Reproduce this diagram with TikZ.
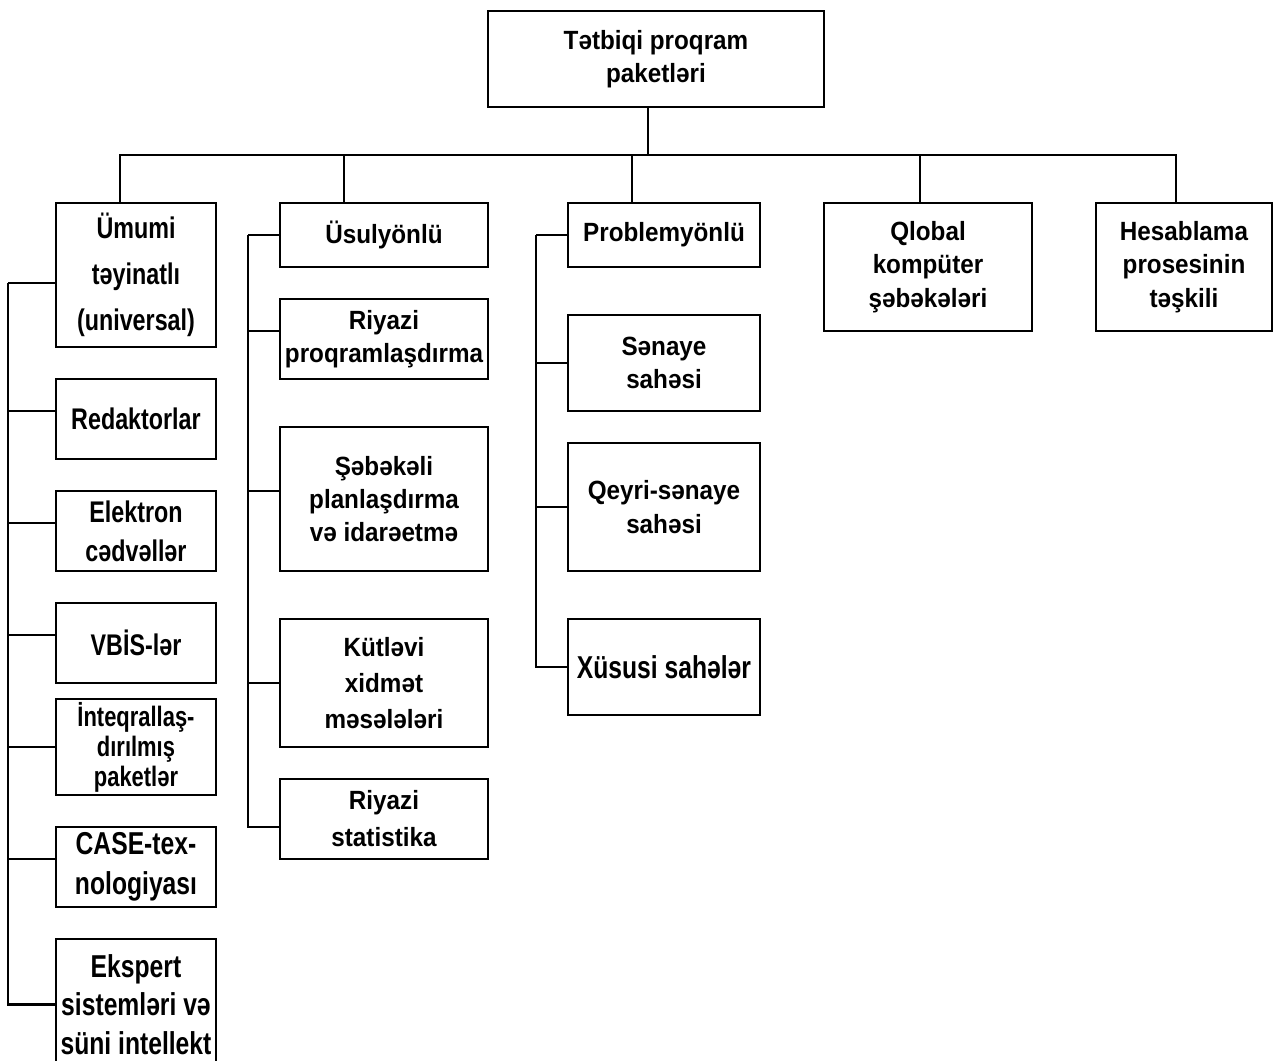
\documentclass[tikz,border=0pt]{standalone}
\usepackage{fontspec}
\setmainfont{Liberation Sans}
\newfontfamily\narrowbf[FakeStretch=0.78]{Liberation Sans Bold}
\newfontfamily\plainbf[FakeStretch=0.92]{Liberation Sans Bold}
\usetikzlibrary{calc,positioning}
\tikzset{
  qutu/.style={
    draw,
    line width=1.3pt,
    inner sep=0pt,
    outer sep=0pt,
    align=center
  },
  sol/.style={qutu, minimum width=3.2cm},
  orta/.style={qutu, minimum width=4.16cm},
  sag/.style={qutu, minimum width=3.84cm},
  adi/.style={font=\plainbf\fontsize{15}{19}\selectfont},
  iri/.style={font=\narrowbf\fontsize{17}{22}\selectfont},
  xett/.style={line width=1.3pt}
}

\begin{document}
\begin{tikzpicture}
\useasboundingbox (0,0) rectangle (25.62,-21.22);
% kok
\node[qutu,adi,anchor=north west,minimum width=6.72cm,minimum height=1.92cm,font=\plainbf\fontsize{15}{19}\selectfont] (tetbiqi) at (9.76,-0.22) {Tətbiqi proqram\\ paketləri};
% birinci sutun
\node[sol,iri,anchor=north west,minimum height=2.88cm,font=\narrowbf\fontsize{17}{26}\selectfont] (umumi) at (1.12,-4.06) {Ümumi\\təyinatlı\\(universal)};
\node[sol,iri,minimum height=1.6cm,below=0.64cm of umumi] (redaktor) {Redaktorlar};
\node[sol,iri,minimum height=1.6cm,below=0.64cm of redaktor] (elektron) {Elektron\\cədvəllər};
\node[sol,iri,minimum height=1.6cm,below=0.64cm of elektron] (vbis) {VBİS-lər};
\node[sol,iri,minimum height=1.92cm,below=0.32cm of vbis,font=\narrowbf\fontsize{16}{17}\selectfont] (inteq) {İnteqrallaş-\\dırılmış\\paketlər};
\node[sol,iri,minimum height=1.6cm,below=0.64cm of inteq,font=\narrowbf\fontsize{18}{23}\selectfont] (casetex) {CASE-tex-\\nologiyası};
\node[sol,iri,minimum height=2.62cm,below=0.64cm of casetex,font=\narrowbf\fontsize{18}{22}\selectfont] (ekspert) {Ekspert\\sistemləri və\\süni intellekt};
% ikinci sutun
\node[orta,adi,anchor=north west,minimum height=1.28cm] (usul) at (5.6,-4.06) {Üsulyönlü};
\node[orta,adi,minimum height=1.6cm,below=0.64cm of usul] (riyprog) {Riyazi\\proqramlaşdırma};
\node[orta,adi,minimum height=2.88cm,below=0.96cm of riyprog] (sebeke) {Şəbəkəli\\planlaşdırma\\və idarəetmə};
\node[orta,adi,minimum height=2.56cm,below=0.96cm of sebeke,font=\plainbf\fontsize{15}{20.5}\selectfont] (kutlevi) {Kütləvi\\xidmət\\məsələləri};
\node[orta,adi,minimum height=1.6cm,below=0.64cm of kutlevi,font=\plainbf\fontsize{15}{21}\selectfont] (riystat) {Riyazi\\statistika};
% ucuncu sutun
\node[sag,adi,anchor=north west,minimum height=1.28cm] (problem) at (11.36,-4.06) {Problemyönlü};
\node[sag,adi,minimum height=1.92cm,below=0.96cm of problem] (senaye) {Sənaye\\sahəsi};
\node[sag,adi,minimum height=2.56cm,below=0.64cm of senaye] (qeyri) {Qeyri-sənaye\\sahəsi};
\node[sag,iri,minimum height=1.92cm,below=0.96cm of qeyri,font=\narrowbf\fontsize{18}{22}\selectfont] (xususi) {Xüsusi sahələr};
% qalan
\node[qutu,adi,anchor=north west,minimum width=4.16cm,minimum height=2.56cm] (qlobal) at (16.48,-4.06) {Qlobal\\kompüter\\şəbəkələri};
\node[qutu,adi,anchor=north west,minimum width=3.52cm,minimum height=2.56cm] (hesab) at (21.92,-4.06) {Hesablama\\prosesinin\\təşkili};

% yuxari xett
\coordinate (hub) at ($(tetbiqi.south)+(-0.16,-0.96)$);
\draw[xett] (tetbiqi.south -| hub) -- (hub);
\foreach \n/\dx in {umumi/-0.32,usul/-0.8,problem/-0.64,qlobal/-0.16,hesab/-0.16}
  \draw[xett] ($(\n.north)+(\dx,0)$) |- (hub);

% sol xetler
\draw[xett] ([yshift=-0.16cm]umumi.west) -- ++(-0.96,0) coordinate (busA);
\foreach \n/\dy in {redaktor/0.16,elektron/0.16,vbis/0.16,inteq/0,casetex/0.16,ekspert/0}
  \draw[xett] ([yshift=\dy cm]\n.west) -| (busA);
\draw[xett] (usul.west) -- ++(-0.64,0) coordinate (busB);
\foreach \n/\dy in {riyprog/0.16,sebeke/0.16,kutlevi/0,riystat/-0.16}
  \draw[xett] ([yshift=\dy cm]\n.west) -| (busB);
\draw[xett] (problem.west) -- ++(-0.64,0) coordinate (busC);
\foreach \n in {senaye,qeyri,xususi}
  \draw[xett] (\n.west) -| (busC);
\end{tikzpicture}
\end{document}
